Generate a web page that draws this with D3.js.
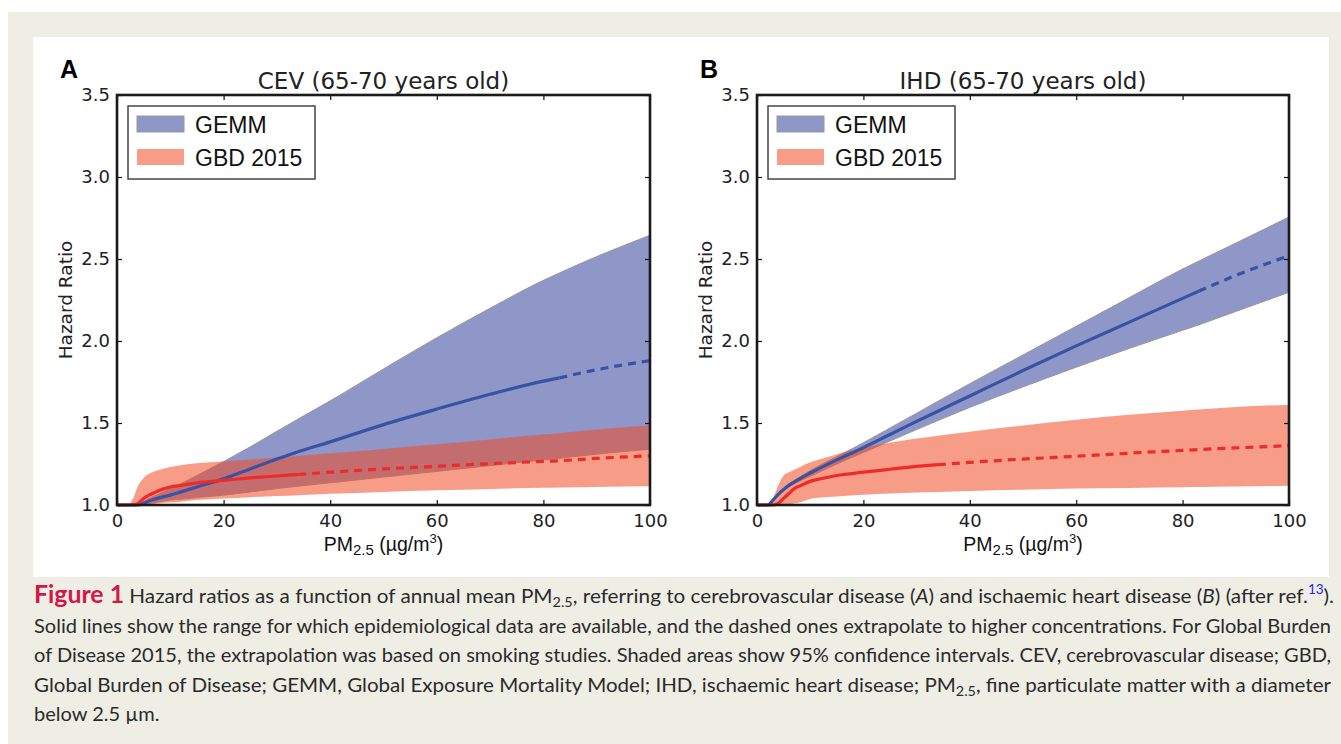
<!DOCTYPE html>
<html lang='en'>
<head>
	<meta charset='UTF-8'/>
	<title>Hazard ratios vs PM2.5</title>
	<script src='https://cdnjs.cloudflare.com/ajax/libs/d3/7.8.5/d3.min.js'></script>
	<style>
		body {margin: 0; background: #fff;}
		svg {display: block;}
		.tick text {font-family: 'DejaVu Sans'; font-size: 18px; fill: #222;}
		.tick line {stroke: #111; stroke-width: 1.2;}
	</style>
</head>
<body>
	<script>
		// PM2.5 grid (µg/m3) shared by every series
		const pm = [0, 2, 3, 4, 5, 6, 7, 8, 10, 12, 15, 20, 25, 30, 34, 40, 50, 60, 70, 80, 83, 90, 100];

		// A: cerebrovascular disease
		const cevGemm   = [1.0, 1.0, 1.0, 1.0, 1.01, 1.025, 1.035, 1.045, 1.06, 1.08, 1.11, 1.16, 1.22, 1.28, 1.325, 1.385, 1.49, 1.585, 1.675, 1.755, 1.775, 1.825, 1.88];
		const cevGemmLo = [1.0, 1.0, 1.0, 1.0, 1.005, 1.01, 1.015, 1.02, 1.03, 1.035, 1.045, 1.06, 1.08, 1.10, 1.115, 1.135, 1.17, 1.205, 1.24, 1.275, 1.285, 1.31, 1.34];
		const cevGemmHi = [1.0, 1.0, 1.0, 1.0, 1.02, 1.04, 1.055, 1.07, 1.10, 1.13, 1.18, 1.265, 1.355, 1.45, 1.525, 1.635, 1.83, 2.02, 2.20, 2.37, 2.415, 2.515, 2.645];
		const cevGbd    = [1.0, 1.0, 1.0, 1.01, 1.04, 1.06, 1.075, 1.09, 1.11, 1.12, 1.135, 1.15, 1.165, 1.177, 1.186, 1.20, 1.22, 1.236, 1.252, 1.266, 1.27, 1.284, 1.30];
		const cevGbdLo  = [1.0, 1.0, 1.0, 1.0, 1.0, 1.003, 1.006, 1.01, 1.015, 1.02, 1.03, 1.04, 1.048, 1.055, 1.06, 1.068, 1.08, 1.09, 1.098, 1.105, 1.107, 1.11, 1.114];
		const cevGbdHi  = [1.0, 1.0, 1.04, 1.12, 1.165, 1.19, 1.205, 1.215, 1.232, 1.243, 1.254, 1.265, 1.277, 1.289, 1.299, 1.315, 1.342, 1.37, 1.40, 1.43, 1.438, 1.46, 1.486];

		// B: ischaemic heart disease
		const ihdGemm   = [1.0, 1.0, 1.03, 1.065, 1.095, 1.12, 1.14, 1.16, 1.195, 1.228, 1.275, 1.35, 1.43, 1.51, 1.572, 1.665, 1.82, 1.97, 2.115, 2.26, 2.303, 2.40, 2.52];
		const ihdGemmLo = [1.0, 1.0, 1.025, 1.06, 1.09, 1.11, 1.13, 1.145, 1.175, 1.205, 1.25, 1.32, 1.39, 1.46, 1.515, 1.595, 1.72, 1.84, 1.955, 2.065, 2.098, 2.18, 2.297];
		const ihdGemmHi = [1.0, 1.0, 1.035, 1.07, 1.10, 1.13, 1.15, 1.17, 1.21, 1.245, 1.295, 1.38, 1.47, 1.56, 1.632, 1.74, 1.915, 2.09, 2.265, 2.439, 2.487, 2.597, 2.756];
		const ihdGbd    = [1.0, 1.0, 1.0, 1.01, 1.04, 1.07, 1.10, 1.115, 1.144, 1.16, 1.18, 1.20, 1.218, 1.235, 1.246, 1.26, 1.28, 1.297, 1.316, 1.333, 1.338, 1.348, 1.362];
		const ihdGbdLo  = [1.0, 1.0, 1.0, 1.0, 1.0, 1.0, 1.01, 1.015, 1.037, 1.045, 1.052, 1.063, 1.07, 1.076, 1.08, 1.085, 1.093, 1.10, 1.104, 1.108, 1.109, 1.113, 1.118];
		const ihdGbdHi  = [1.0, 1.0, 1.04, 1.12, 1.18, 1.20, 1.215, 1.23, 1.26, 1.28, 1.31, 1.35, 1.38, 1.405, 1.423, 1.447, 1.485, 1.52, 1.55, 1.575, 1.582, 1.597, 1.612];

		// end of observed data (solid), beyond it dashed extrapolation
		const gemmSolidTo = 83;
		const gbdSolidTo = 34;

		const xTicks = [0, 20, 40, 60, 80, 100];
		const yTicks = [1.0, 1.5, 2.0, 2.5, 3.0, 3.5];
		const legendLabels = ['GEMM', 'GBD 2015'];

		const panels = [
			{letter: 'A', title: 'CEV (65-70 years old)', left: 117, right: 650,
				gemm: cevGemm, gemmLo: cevGemmLo, gemmHi: cevGemmHi, gbd: cevGbd, gbdLo: cevGbdLo, gbdHi: cevGbdHi},
			{letter: 'B', title: 'IHD (65-70 years old)', left: 757, right: 1289,
				gemm: ihdGemm, gemmLo: ihdGemmLo, gemmHi: ihdGemmHi, gbd: ihdGbd, gbdLo: ihdGbdLo, gbdHi: ihdGbdHi}
		];

		const width = 1341, height = 744;
		const plotTop = 95, plotBottom = 505;

		const svg = d3.select('body').append('svg')
			.attr('width', width)
			.attr('height', height);

		// page frame: beige box with white figure area
		svg.append('rect').attr('x', 8).attr('y', 12).attr('width', width - 8).attr('height', height - 12).attr('fill', '#eeeee4');
		svg.append('rect').attr('x', 33).attr('y', 37).attr('width', 1296).attr('height', 540).attr('fill', '#fff');

		const Y = d3.scaleLinear().domain([1.0, 3.5]).range([plotBottom, plotTop]);

		panels.forEach(p => {
			const X = d3.scaleLinear().domain([0, 100]).range([p.left, p.right]);
			const g = svg.append('g');

			const band = (lo, hi) => d3.area()
				.x((d, i) => X(pm[i]))
				.y0((d, i) => Y(lo[i]))
				.y1((d, i) => Y(hi[i]))
				.curve(d3.curveMonotoneX)(pm);

			const path = (vals, keep) => d3.line()
				.x(i => X(pm[i]))
				.y(i => Y(vals[i]))
				.curve(d3.curveMonotoneX)(pm.map((d, i) => i).filter(i => keep(pm[i])));

			// confidence bands
			g.append('path').attr('d', band(p.gemmLo, p.gemmHi))
				.attr('fill', '#8f96c8').attr('stroke', '#999').attr('stroke-width', 1);
			g.append('path').attr('d', band(p.gbdLo, p.gbdHi))
				.attr('fill', '#f04d25').attr('fill-opacity', 0.55);

			// central estimates
			[[p.gemm, gemmSolidTo, '#3953a4'], [p.gbd, gbdSolidTo, '#ee2b2b']].forEach(([vals, cut, col]) => {
				g.append('path').attr('d', path(vals, x => x <= cut))
					.attr('fill', 'none').attr('stroke', col).attr('stroke-width', 3.2);
				g.append('path').attr('d', path(vals, x => x >= cut))
					.attr('fill', 'none').attr('stroke', col).attr('stroke-width', 3.2)
					.attr('stroke-dasharray', '8,6');
			});

			// axes, ticks inside on all four sides
			g.append('g').attr('transform', 'translate(0,' + plotBottom + ')')
				.call(d3.axisBottom(X).tickValues(xTicks).tickSize(-5).tickPadding(9).tickFormat(d3.format('d')))
				.call(a => a.select('.domain').remove());
			g.append('g').attr('transform', 'translate(0,' + plotTop + ')')
				.call(d3.axisTop(X).tickValues(xTicks).tickSize(-5).tickFormat(''))
				.call(a => a.select('.domain').remove());
			g.append('g').attr('transform', 'translate(' + p.left + ',0)')
				.call(d3.axisLeft(Y).tickValues(yTicks).tickSize(-5).tickPadding(7).tickFormat(d3.format('.1f')))
				.call(a => a.select('.domain').remove());
			g.append('g').attr('transform', 'translate(' + p.right + ',0)')
				.call(d3.axisRight(Y).tickValues(yTicks).tickSize(-5).tickFormat(''))
				.call(a => a.select('.domain').remove());
			g.selectAll('.tick text').attr('fill', '#222');

			g.append('rect')
				.attr('x', p.left).attr('y', plotTop)
				.attr('width', p.right - p.left).attr('height', plotBottom - plotTop)
				.attr('fill', 'none').attr('stroke', '#1a1a1a').attr('stroke-width', 2.6);

			// titles and labels
			g.append('text').text(p.letter)
				.attr('x', p.left - 57).attr('y', 78)
				.style('font-family', 'Liberation Sans').style('font-weight', 'bold').style('font-size', '25px');
			g.append('text').text(p.title)
				.attr('x', (p.left + p.right) / 2).attr('y', 89)
				.attr('text-anchor', 'middle')
				.style('font-family', 'DejaVu Sans').style('font-size', '23px').attr('fill', '#222');
			g.append('text').text('Hazard Ratio')
				.attr('transform', 'translate(' + (p.left - 45) + ',' + ((plotTop + plotBottom) / 2) + ') rotate(-90)')
				.attr('text-anchor', 'middle')
				.style('font-family', 'DejaVu Sans').style('font-size', '18.5px').attr('fill', '#222');
			const xl = g.append('text')
				.attr('x', (p.left + p.right) / 2).attr('y', 551)
				.attr('text-anchor', 'middle')
				.style('font-family', 'Liberation Sans').style('font-size', '19.5px').attr('fill', '#111');
			xl.append('tspan').text('PM');
			xl.append('tspan').text('2.5').attr('dy', 4).style('font-size', '15px');
			xl.append('tspan').text(' (µg/m').attr('dy', -4);
			xl.append('tspan').text('3').attr('dy', -8).style('font-size', '13px');
			xl.append('tspan').text(')').attr('dy', 8);

			// legend
			const lg = g.append('g').attr('transform', 'translate(' + (p.left + 11) + ',106)');
			lg.append('rect').attr('width', 187).attr('height', 73)
				.attr('fill', '#fff').attr('stroke', '#444').attr('stroke-width', 1.5);
			legendLabels.forEach((lab, i) => {
				lg.append('rect')
					.attr('x', 9).attr('y', 10 + i * 33).attr('width', 47).attr('height', 16)
					.attr('fill', i === 0 ? '#8f96c8' : '#f79c87')
					.attr('stroke', i === 0 ? '#999' : 'none');
				lg.append('text').text(lab)
					.attr('x', 67).attr('y', 27 + i * 33)
					.style('font-family', 'Liberation Sans').style('font-size', '23px').attr('fill', '#111');
			});
		});

		// caption
		const capFont = 'Lato';
		const capLeft = 34, capWidth = 1297;
		const capLines = [
			[['Figure 1', 'fig'], [' Hazard ratios as a function of annual mean PM'], ['2.5', 'sub'], [', referring to cerebrovascular disease ('], ['A', 'it'], [') and ischaemic heart disease ('], ['B', 'it'], [') (after ref.'], ['13', 'sup'], [').']],
			[['Solid lines show the range for which epidemiological data are available, and the dashed ones extrapolate to higher concentrations. For Global Burden']],
			[['of Disease 2015, the extrapolation was based on smoking studies. Shaded areas show 95% confidence intervals. CEV, cerebrovascular disease; GBD,']],
			[['Global Burden of Disease; GEMM, Global Exposure Mortality Model; IHD, ischaemic heart disease; PM'], ['2.5', 'sub'], [', fine particulate matter with a diameter']],
			[['below 2.5 µm.']]
		];
		const capNodes = capLines.map((line, li) => {
			const t = svg.append('text')
				.attr('x', capLeft).attr('y', 603 + li * 29.6)
				.style('font-family', capFont).style('font-size', '20px').attr('fill', '#2b2b2b');
			let off = 0;
			line.forEach(([s, kind]) => {
				const target = kind === 'sub' ? 4 : kind === 'sup' ? -9 : 0;
				const ts = t.append('tspan').text(s).attr('dy', target - off);
				off = target;
				if (kind === 'fig') ts.attr('fill', '#d3174b').style('font-weight', 'bold').style('font-size', '24px');
				if (kind === 'it') ts.style('font-style', 'italic');
				if (kind === 'sub') ts.style('font-size', '14px');
				if (kind === 'sup') ts.attr('fill', '#2323ff').style('font-size', '13px');
			});
			return t;
		});
		// justify the first four lines, scale the last one by the same factor
		const ratio = capWidth / capNodes[1].node().getComputedTextLength();
		capNodes.forEach((t, i) => {
			const w = i < 4 ? capWidth + (i === 0 ? 3 : 0) : t.node().getComputedTextLength() * ratio;
			t.attr('lengthAdjust', 'spacingAndGlyphs').attr('textLength', w);
		});
	</script>
</body>
</html>
